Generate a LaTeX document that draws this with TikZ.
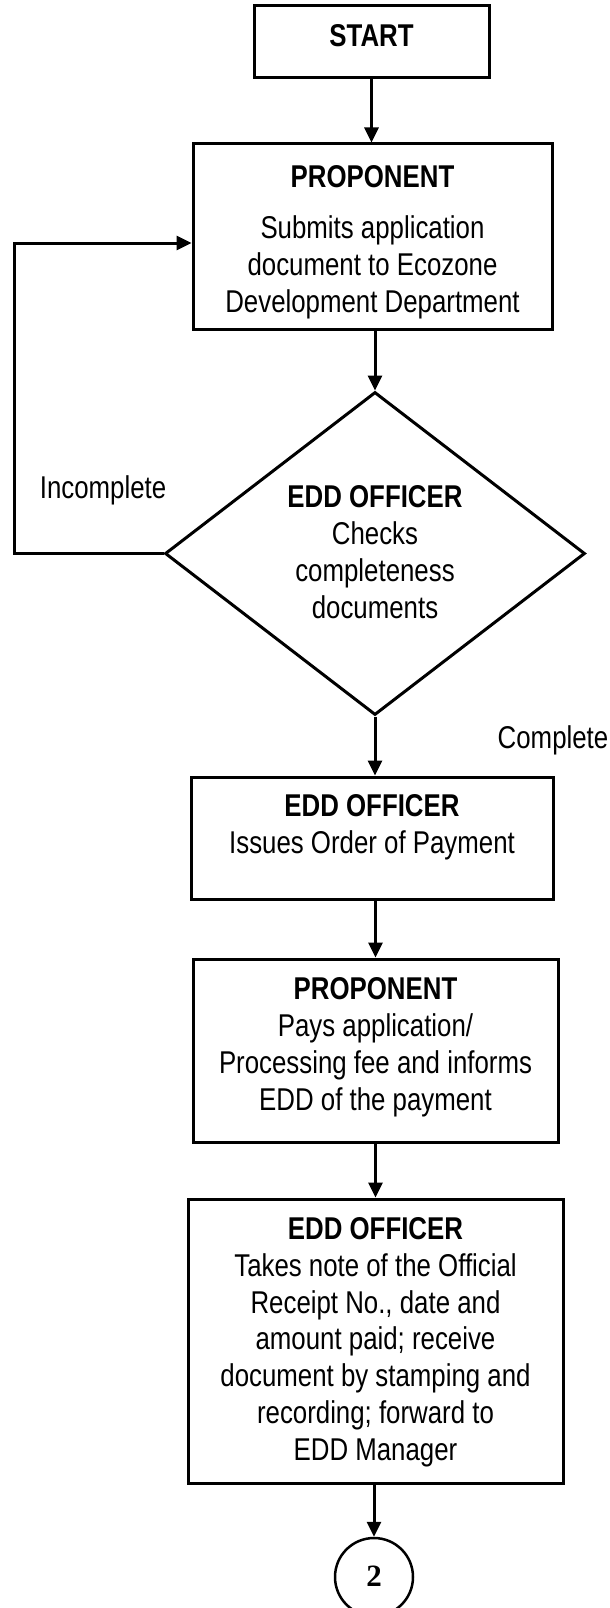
\documentclass[tikz,border=0pt]{standalone}
\usepackage{fontspec}
\setmainfont[FakeStretch=0.82]{Liberation Sans}
\newfontfamily\digitfont{Liberation Serif}
\usetikzlibrary{arrows.meta,shapes.geometric}

\begin{document}
\begin{tikzpicture}[x=1pt,y=-1pt,
  box/.style={draw,line width=3pt,inner sep=0pt},
  % multi-line texts are placed by the baseline of their last line
  txt/.style={font=\fontsize{31.5}{36.7}\selectfont,align=center,inner sep=0pt,anchor=base},
  arr/.style={line width=3pt,-{Triangle[length=15pt,width=14pt]}}
]
\useasboundingbox (0,0) rectangle (610,1608);

% process boxes
\node[box,minimum width=235pt,minimum height=72pt] (start) at (371.5,41.5) {};
\node[txt] (startt) at (371.5,47) {\bfseries START};

\node[box,minimum width=359pt,minimum height=185pt] (p1) at (372.5,236.5) {};
\node[txt] (p1t) at (372.5,312) {\bfseries PROPONENT\\[14pt]Submits application\\document to Ecozone\\Development Department};

% decision
\node[draw,diamond,line width=3pt,inner sep=0pt,minimum width=420pt,minimum height=323pt] (chk) at (375,553.5) {};
\node[txt] (chkt) at (375,618) {\bfseries EDD OFFICER\\Checks\\completeness\\documents};

\node[box,minimum width=362pt,minimum height=122pt] (b2) at (372,838) {};
\node[txt] (b2t) at (372,853) {\bfseries EDD OFFICER\\Issues Order of Payment};

\node[box,minimum width=365pt,minimum height=183pt] (b3) at (375.5,1050.5) {};
\node[txt] (b3t) at (375.5,1110) {\bfseries PROPONENT\\Pays application/\\Processing fee and informs\\EDD of the payment};

\node[box,minimum width=375pt,minimum height=284pt] (b4) at (375.5,1341) {};
\node[txt] (b4t) at (375.5,1460) {\bfseries EDD OFFICER\\Takes note of the Official\\Receipt No., date and\\amount paid; receive\\document by stamping and\\recording; forward to\\EDD Manager};

% off-page connector
\node[draw,circle,line width=2.5pt,minimum size=78pt,inner sep=0pt] (c2) at (374,1577) {};
\node[anchor=base,inner sep=0pt,font=\fontsize{31}{36}\selectfont\digitfont\bfseries] (c2t) at (374,1586) {2};

% branch labels
\node[txt] (inc) at (103,498) {Incomplete};
\node[txt] (cmp) at (553,748) {Complete};

% connectors
\draw[arr] (start.south) -- (start.south |- p1.north);
\draw[arr] (chk.north |- p1.south) -- (chk.north);
\draw[arr] (chk.south) -- (chk.south |- b2.north);
\draw[arr] (b3.north |- b2.south) -- (b3.north);
\draw[arr] (b3.south) -- (b3.south |- b4.north);
\draw[arr] (c2.north |- b4.south) -- (c2.north);

% return path for incomplete documents
\coordinate (lp) at (14,243);
\draw[arr] (chk.west) -| (lp) -- (lp -| p1.west);
\end{tikzpicture}
\end{document}
